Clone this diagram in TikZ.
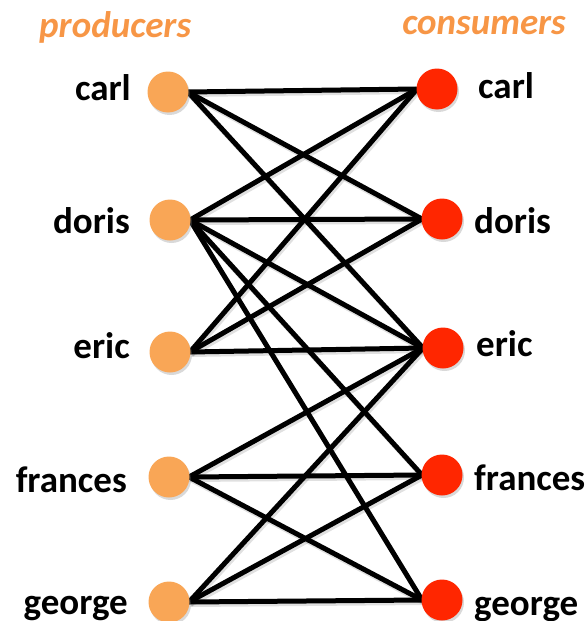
\documentclass[tikz,border=0pt]{standalone}
\usepackage{fontspec}
\setmainfont{Carlito}
\usetikzlibrary{shadows}
\definecolor{prodcol}{HTML}{F9A656}
\definecolor{conscol}{HTML}{FF2600}
\definecolor{titlecol}{HTML}{F79646}
\begin{document}
\begin{tikzpicture}[x=1pt,y=-1pt,
  prod/.style={circle,fill=prodcol,minimum size=41pt,inner sep=0pt,
    drop shadow={opacity=0.3,shadow xshift=1.5pt,shadow yshift=-2.5pt}},
  cons/.style={circle,fill=conscol,minimum size=41pt,inner sep=0pt,
    drop shadow={opacity=0.3,shadow xshift=1.5pt,shadow yshift=-2.5pt}},
  lbl/.style={font=\fontsize{37}{42}\selectfont\bfseries,inner sep=0pt},
  ttl/.style={font=\fontsize{37}{42}\selectfont\bfseries\itshape,text=titlecol,inner sep=0pt},
  edge/.style={line width=5pt,black},
  eshadow/.style={line width=5pt,black,opacity=0.12,transform canvas={shift={(1.5pt,-2.5pt)}}}]
\useasboundingbox (0,0) rectangle (588,621);
% titles
\node[ttl,anchor=base west] (tp) at (39,37) {producers};
\node[ttl,anchor=base east] (tc) at (566,34) {consumers};
% anchor coordinates on circles
\coordinate (pc) at (188,92);
\coordinate (pd) at (190,220);
\coordinate (pe) at (190,352);
\coordinate (pf) at (189,477);
\coordinate (pg) at (189,602);
\coordinate (cc) at (417,89);
\coordinate (cd) at (422,219);
\coordinate (ce) at (423,348);
\coordinate (cf) at (422,475);
\coordinate (cg) at (422,600);
% edges
\foreach \a/\b in {pc/cc,pc/cd,pc/ce,pd/cc,pd/cd,pd/ce,pd/cf,pd/cg,pe/cc,pe/cd,pe/ce,pf/ce,pf/cf,pf/cg,pg/ce,pg/cf,pg/cg}{
  \draw[eshadow] (\a) -- (\b);
  \draw[edge] (\a) -- (\b);
}
% circles
\node[prod] (npc) at (168,92) {};
\node[prod] (npd) at (170,220) {};
\node[prod] (npe) at (170,352) {};
\node[prod] (npf) at (169,477) {};
\node[prod] (npg) at (169,602) {};
\node[cons] (ncc) at (437,89) {};
\node[cons] (ncd) at (442,219) {};
\node[cons] (nce) at (443,348) {};
\node[cons] (ncf) at (442,475) {};
\node[cons] (ncg) at (442,600) {};
% labels
\node[lbl,anchor=base east] (lpc) at (131,100) {carl};
\node[lbl,anchor=base east] (lpd) at (130,233) {doris};
\node[lbl,anchor=base east] (lpe) at (130,358) {eric};
\node[lbl,anchor=base east] (lpf) at (127,492) {frances};
\node[lbl,anchor=base east] (lpg) at (128,614) {george};
\node[lbl,anchor=base west] (lcc) at (478,98) {carl};
\node[lbl,anchor=base west] (lcd) at (474,233) {doris};
\node[lbl,anchor=base west] (lce) at (476,356) {eric};
\node[lbl,anchor=base west] (lcf) at (474,490) {frances};
\node[lbl,anchor=base west] (lcg) at (474,615) {george};
\end{tikzpicture}
\end{document}
